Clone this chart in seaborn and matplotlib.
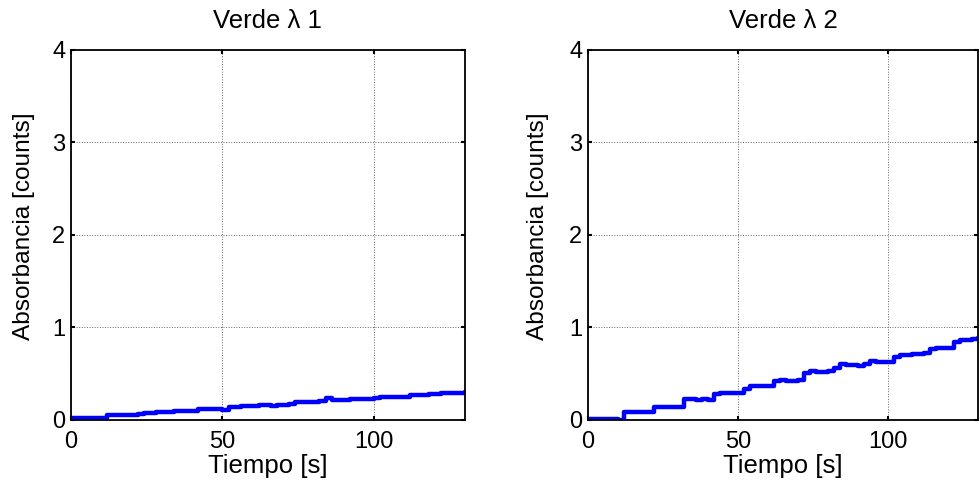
import numpy as np
import pandas as pd
import matplotlib
matplotlib.use("Agg")
import matplotlib.pyplot as plt
import seaborn as sns

# Sampling times [s]
tiempo = list(range(0, 131, 2))

# Absorbance readings, green channel, wavelength 1
verde_l1 = [0.02, 0.025, 0.02, 0.02, 0.025, 0.02, 0.05, 0.05, 0.055, 0.055,
            0.055, 0.06, 0.078, 0.078, 0.08, 0.082, 0.09, 0.092, 0.092, 0.095,
            0.10, 0.115, 0.115, 0.118, 0.118, 0.112, 0.14, 0.14, 0.145, 0.148,
            0.15, 0.162, 0.165, 0.155, 0.165, 0.16, 0.175, 0.19, 0.19, 0.192,
            0.195, 0.205, 0.235, 0.21, 0.21, 0.212, 0.225, 0.228, 0.228, 0.23,
            0.232, 0.245, 0.248, 0.248, 0.25, 0.252, 0.265, 0.27, 0.272, 0.275,
            0.278, 0.288, 0.29, 0.295, 0.29, 0.30]

# Absorbance readings, green channel, wavelength 2
verde_l2 = [0.01, 0.01, 0.015, 0.01, 0.01, 0.0, 0.08, 0.08, 0.08, 0.08,
            0.085, 0.135, 0.14, 0.14, 0.14, 0.14, 0.225, 0.23, 0.22, 0.225,
            0.22, 0.28, 0.29, 0.29, 0.295, 0.295, 0.33, 0.37, 0.365, 0.365,
            0.37, 0.42, 0.43, 0.425, 0.42, 0.43, 0.51, 0.53, 0.52, 0.52,
            0.53, 0.56, 0.60, 0.59, 0.59, 0.585, 0.60, 0.64, 0.63, 0.63,
            0.63, 0.68, 0.70, 0.70, 0.71, 0.71, 0.72, 0.77, 0.78, 0.78,
            0.78, 0.84, 0.86, 0.86, 0.87, 0.88]

titulos = ["Verde \u03bb 1", "Verde \u03bb 2"]
xticks = [0, 50, 100]
yticks = [0, 1, 2, 3, 4]

sns.set_theme(style="white")
plt.rcParams["font.family"] = ["Liberation Sans", "DejaVu Sans"]
plt.rcParams["text.color"] = "black"
plt.rcParams["axes.labelcolor"] = "black"

fig = plt.figure(figsize=(9.8, 4.94), dpi=100)
axes = [fig.add_axes([0.0724, 0.15, 0.402, 0.749]),
        fig.add_axes([0.600, 0.15, 0.398, 0.749])]
ylabel_x = [-0.092, -0.10]

fs_lab = 18.5
fs_tick = 17
for ax, serie, titulo, yx in zip(axes, [verde_l1, verde_l2], titulos, ylabel_x):
    df = pd.DataFrame({"t": tiempo, "a": serie})
    sns.lineplot(data=df, x="t", y="a", ax=ax, color="#0000ff",
                 linewidth=3.2, drawstyle="steps-post")
    ax.set_xlim(0, 130)
    ax.set_ylim(0, 4)
    ax.set_xticks(xticks)
    ax.set_yticks(yticks)
    ax.grid(True, color="#666666", linestyle=":", linewidth=0.7)
    for s in ax.spines.values():
        s.set_visible(True)
        s.set_color("black")
        s.set_linewidth(1.3)
    ax.tick_params(direction="in", length=3, width=1.5, colors="black",
                   labelcolor="black", labelsize=fs_tick,
                   top=True, right=True, bottom=True, left=True)
    ax.tick_params(axis="x", pad=8)
    ax.tick_params(axis="y", pad=4)
    ax.set_xlabel("Tiempo [s]", fontsize=fs_lab, labelpad=1)
    ax.set_ylabel("Absorbancia [counts]", fontsize=17.6)
    ax.yaxis.set_label_coords(yx, 0.524)
    ax.set_title(titulo, fontsize=fs_lab, pad=16)

fig.savefig("out.png", dpi=100, facecolor="white")
